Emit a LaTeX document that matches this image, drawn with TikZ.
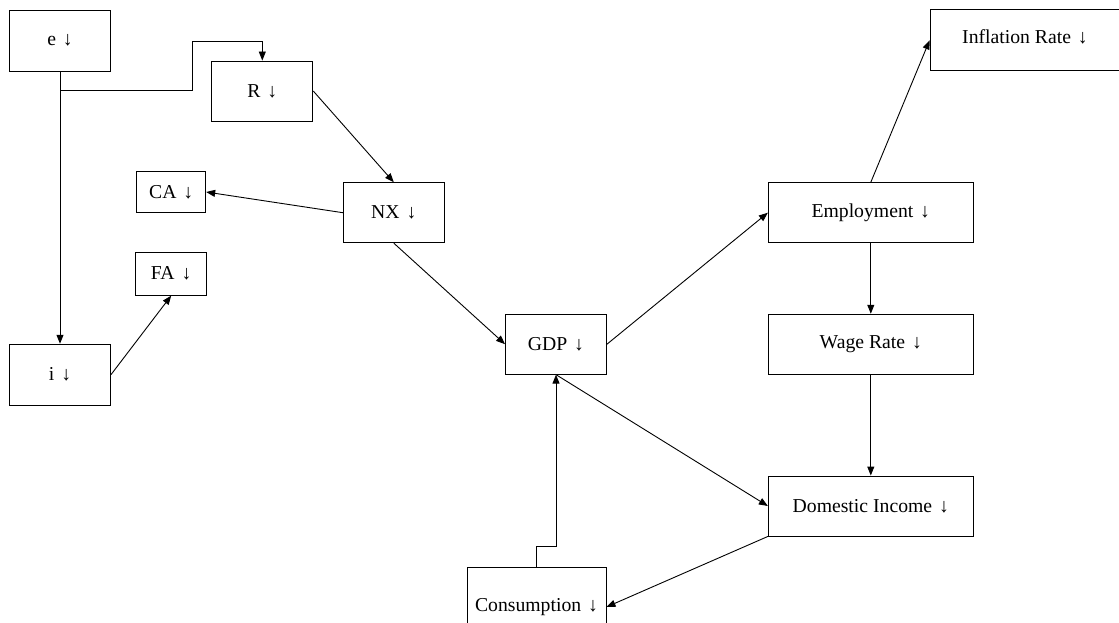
\documentclass[tikz,border=0pt]{standalone}
\usepackage{fontspec}
\setmainfont{Liberation Serif}
\usetikzlibrary{arrows.meta}
\begin{document}
\begin{tikzpicture}[x=1pt,y=-1pt,
  box/.style={draw=black,line width=0.9pt,inner sep=0pt,fill=white,
    font=\fontsize{19.7}{23}\selectfont},
  arr/.style={draw=black,line width=0.9pt,-{Triangle[length=9pt,width=7pt]}},
  ]
\useasboundingbox (0,0) rectangle (1119,623);
\node[box,minimum width=101,minimum height=61] (e) at (60,40.5) {e\hspace{0.35em}↓};
\node[box,minimum width=101,minimum height=60] (R) at (262.3,91) {R\hspace{0.35em}↓};
\node[box,minimum width=69,minimum height=41] (CA) at (171.2,192) {CA\hspace{0.35em}↓};
\node[box,minimum width=101,minimum height=60] (NX) at (393.8,212.7) {NX\hspace{0.35em}↓};
\node[box,minimum width=71,minimum height=43] (FA) at (171.2,273.7) {FA\hspace{0.35em}↓};
\node[box,minimum width=101,minimum height=61] (i) at (60,374.7) {i\hspace{0.35em}↓};
\node[box,minimum width=101,minimum height=60] (GDP) at (556,344.2) {GDP\hspace{0.35em}↓};
\node[box,minimum width=205,minimum height=60] (emp) at (870.8,212.7) {Employment\hspace{0.35em}↓};
\node[box,minimum width=205,minimum height=60] (wage) at (870.8,344.2) {Wage Rate\hspace{0.35em}↓};
\node[box,minimum width=205,minimum height=60] (dom) at (870.8,506) {Domestic Income\hspace{0.35em}↓};
\node[box,minimum width=190,minimum height=61] (inf) at (1025,40.4) {\raisebox{7pt}{Inflation Rate\hspace{0.35em}↓}};
\node[box,minimum width=139,minimum height=80] (con) at (536.5,607) {Consumption\hspace{0.35em}↓};
% connectors
\draw[arr] (e.south) -- (i.north);
\draw[arr] (e.south) -- ++(0,19) -| (192,41.7) -| (R.north);
\draw[arr] (R.east) -- (NX.north);
\draw[arr] (NX.west) -- (CA.east);
\draw[arr] (NX.south) -- (GDP.west);
\draw[arr] (i.east) -- (FA.south);
\draw[arr] (GDP.east) -- (emp.west);
\draw[arr] (emp.north) -- (inf.west);
\draw[arr] (emp.south) -- (wage.north);
\draw[arr] (wage.south) -- (dom.north);
\draw[arr] (GDP.south) -- (dom.west);
\draw[arr] (dom.south west) -- (con.east);
\draw[arr] (con.north) -- ++(0,-20) -| (GDP.south);
\end{tikzpicture}
\end{document}
